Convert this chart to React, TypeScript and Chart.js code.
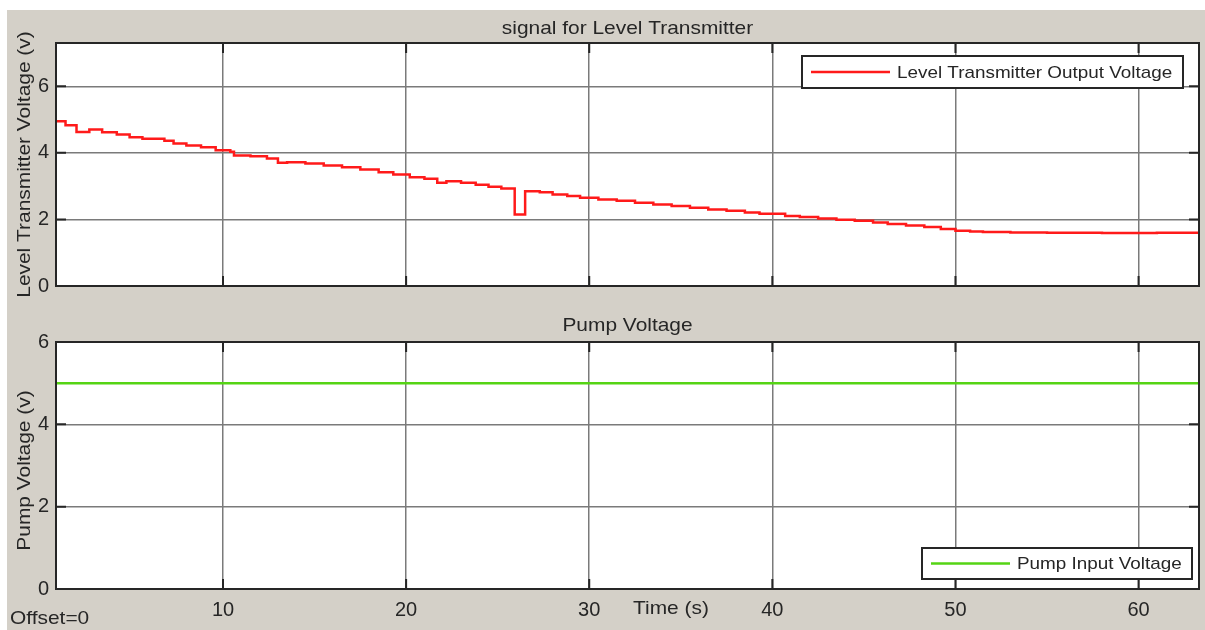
import React, { useEffect, useRef } from "react";
import { Chart, registerables } from "chart.js";

Chart.register(...registerables);

// ---- data ----
const levelTime = [
  0.88, 1.4, 2.0, 2.7, 3.4, 4.2, 4.9, 5.6, 6.8, 7.3, 8.0, 8.8, 9.6, 10.4, 10.6, 11.5, 12.4, 13.0, 13.5,
  14.5, 15.5, 16.5, 17.5, 18.5, 19.3, 20.2, 21.0, 21.7, 22.2, 23.0, 23.8, 24.5, 25.2, 25.93, 26.5, 27.3,
  28.0, 28.8, 29.5, 30.5, 31.5, 32.5, 33.5, 34.5, 35.5, 36.5, 37.5, 38.5, 39.3, 40.7, 41.5, 42.5, 43.5,
  44.5, 45.5, 46.3, 47.3, 48.3, 49.2, 50.0, 50.8, 51.5, 53.0, 55.0, 58.0, 61.0, 63.3,
];
const levelVolts = [
  4.95, 4.83, 4.63, 4.7, 4.62, 4.55, 4.47, 4.42, 4.36, 4.28, 4.22, 4.17, 4.08, 4.03, 3.92, 3.9, 3.83, 3.7, 3.72,
  3.68, 3.62, 3.57, 3.5, 3.42, 3.35, 3.27, 3.22, 3.1, 3.15, 3.1, 3.04, 2.98, 2.93, 2.15, 2.85, 2.82,
  2.75, 2.7, 2.65, 2.6, 2.56, 2.5, 2.45, 2.4, 2.35, 2.3, 2.26, 2.21, 2.17, 2.1, 2.07, 2.03, 1.99,
  1.96, 1.91, 1.86, 1.82, 1.77, 1.71, 1.66, 1.64, 1.62, 1.61, 1.6, 1.59, 1.6, 1.6,
];
const pumpTime = [0.88, 63.3];
const pumpVolts = [5, 5];
const timeTicks = [10, 20, 30, 40, 50, 60];
const levelTicks = [0, 2, 4, 6];
const pumpTicks = [0, 2, 4, 6];

const X_MIN = 0.88;
const X_MAX = 63.3;

const TEXT = "#262626";
const FONT = "Liberation Sans, Arial, sans-serif";
const FIG_BG = "#d4d0c8";
const GRID = "#7a7a7a";

function sText(
  ctx: CanvasRenderingContext2D,
  text: string,
  x: number,
  y: number,
  align: CanvasTextAlign,
  rotate = false,
  size = 18.5,
  stretch = 1.13
) {
  ctx.save();
  ctx.translate(x, y);
  if (rotate) ctx.rotate(-Math.PI / 2);
  ctx.scale(stretch, 1);
  ctx.font = `${size}px ${FONT}`;
  ctx.fillStyle = TEXT;
  ctx.textAlign = align;
  ctx.textBaseline = "middle";
  ctx.fillText(text, 0, 0);
  ctx.restore();
}

type Deco = {
  title: string;
  titleY: number;
  yLabel: string;
  yLabelShift: number;
  legend: { label: string; color: string; box: [number, number, number, number] };
  extra?: (ctx: CanvasRenderingContext2D) => void;
};

function makePlugin(d: Deco) {
  return {
    id: "deco",
    beforeDraw(chart: any) {
      const { ctx, chartArea: a } = chart;
      ctx.save();
      ctx.fillStyle = "#ffffff";
      ctx.fillRect(a.left, a.top, a.right - a.left, a.bottom - a.top);
      ctx.restore();
    },
    afterDraw(chart: any) {
      const { ctx, chartArea: a } = chart;
      const xs = chart.scales.x;
      const ys = chart.scales.y;
      ctx.save();
      // inward tick marks
      ctx.strokeStyle = TEXT;
      ctx.lineWidth = 2;
      const tl = 10;
      ctx.beginPath();
      xs.ticks.forEach((t: any) => {
        const px = xs.getPixelForValue(t.value);
        ctx.moveTo(px, a.bottom);
        ctx.lineTo(px, a.bottom - tl);
        ctx.moveTo(px, a.top);
        ctx.lineTo(px, a.top + tl);
      });
      ys.ticks.forEach((t: any) => {
        const py = ys.getPixelForValue(t.value);
        ctx.moveTo(a.left, py);
        ctx.lineTo(a.left + tl, py);
        ctx.moveTo(a.right, py);
        ctx.lineTo(a.right - tl, py);
      });
      ctx.stroke();
      // border
      ctx.lineWidth = 2;
      ctx.strokeRect(a.left, a.top, a.right - a.left, a.bottom - a.top);
      // legend
      const [lx, ly, lw, lh] = d.legend.box;
      ctx.fillStyle = "#ffffff";
      ctx.fillRect(lx, ly, lw, lh);
      ctx.strokeStyle = TEXT;
      ctx.lineWidth = 2;
      ctx.strokeRect(lx, ly, lw, lh);
      ctx.strokeStyle = d.legend.color;
      ctx.lineWidth = 2.5;
      ctx.beginPath();
      ctx.moveTo(lx + 9, ly + lh / 2);
      ctx.lineTo(lx + 88, ly + lh / 2);
      ctx.stroke();
      sText(ctx, d.legend.label, lx + 95, ly + lh / 2 + 1, "left", false, 17, 1.11);
      // title
      sText(ctx, d.title, (a.left + a.right) / 2, d.titleY, "center");
      // y label
      sText(ctx, d.yLabel, 18, (a.top + a.bottom) / 2 + d.yLabelShift, "center", true);
      if (d.extra) d.extra(ctx);
      ctx.restore();
    },
  };
}

function baseOptions(showX: boolean, yMax: number, yTicks: number[], pad: any, xHeight: number) {
  return {
    responsive: false,
    animation: false as const,
    events: [],
    layout: { padding: pad },
    plugins: { legend: { display: false }, title: { display: false }, tooltip: { enabled: false } },
    scales: {
      x: {
        type: "linear" as const,
        min: X_MIN,
        max: X_MAX,
        afterBuildTicks: (s: any) => {
          s.ticks = timeTicks.map((v) => ({ value: v }));
        },
        afterFit: (s: any) => {
          s.height = xHeight;
        },
        grid: { color: GRID, lineWidth: 1.5, drawTicks: false },
        border: { display: false },
        ticks: {
          display: showX,
          autoSkip: false,
          maxRotation: 0,
          padding: 9,
          color: TEXT,
          font: { family: FONT, size: 20 },
          callback: (v: any) => String(v),
        },
      },
      y: {
        type: "linear" as const,
        min: 0,
        max: yMax,
        afterBuildTicks: (s: any) => {
          s.ticks = yTicks.map((v) => ({ value: v }));
        },
        afterFit: (s: any) => {
          s.width = 49;
        },
        grid: { color: GRID, lineWidth: 1.5, drawTicks: false },
        border: { display: false },
        ticks: {
          padding: 7,
          color: TEXT,
          font: { family: FONT, size: 20 },
          callback: (v: any) => String(v),
        },
      },
    },
  };
}

export default function App() {
  const topRef = useRef<HTMLCanvasElement>(null);
  const botRef = useRef<HTMLCanvasElement>(null);

  useEffect(() => {
    const top = new Chart(topRef.current!, {
      type: "line",
      data: {
        datasets: [
          {
            data: levelTime.map((t, i) => ({ x: t, y: levelVolts[i] })),
            borderColor: "#ff1a1a",
            borderWidth: 2.5,
            pointRadius: 0,
            stepped: "before",
            fill: false,
          },
        ],
      },
      options: baseOptions(false, 7.3, levelTicks, { left: 0, right: 6, top: 33, bottom: 19 }, 0) as any,
      plugins: [
        makePlugin({
          title: "signal for Level Transmitter",
          titleY: 19,
          yLabel: "Level Transmitter Voltage (v)",
          yLabelShift: 0,
          legend: { label: "Level Transmitter Output Voltage", color: "#ff1a1a", box: [795, 46, 381, 32] },
        }),
      ],
    });
    const bot = new Chart(botRef.current!, {
      type: "line",
      data: {
        datasets: [
          {
            data: pumpTime.map((t, i) => ({ x: t, y: pumpVolts[i] })),
            borderColor: "#55d414",
            borderWidth: 2.5,
            pointRadius: 0,
            fill: false,
          },
        ],
      },
      options: baseOptions(true, 6, pumpTicks, { left: 0, right: 6, top: 37, bottom: 0 }, 41) as any,
      plugins: [
        makePlugin({
          title: "Pump Voltage",
          titleY: 21,
          yLabel: "Pump Voltage (v)",
          yLabelShift: 5,
          legend: { label: "Pump Input Voltage", color: "#55d414", box: [915, 243, 270, 31] },
          extra: (ctx) => {
            sText(ctx, "Time (s)", 664, 304, "center");
            sText(ctx, "Offset=0", 3, 314, "left");
          },
        }),
      ],
    });
    return () => {
      top.destroy();
      bot.destroy();
    };
  }, []);

  return (
    <div style={{ position: "absolute", left: 0, top: 0, width: 1205, height: 630, background: "#ffffff" }}>
      <div style={{ position: "absolute", left: 7, top: 10, width: 1198, height: 620, background: FIG_BG }}>
        <canvas ref={topRef} width={1198} height={295} style={{ position: "absolute", left: 0, top: 0 }} />
        <canvas ref={botRef} width={1198} height={325} style={{ position: "absolute", left: 0, top: 295 }} />
      </div>
    </div>
  );
}
